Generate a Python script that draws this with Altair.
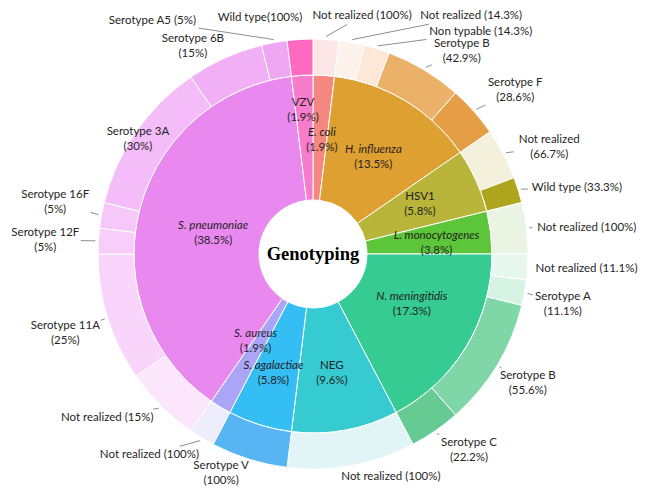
import math
import altair as alt
import pandas as pd

# ---------------- data ----------------
center_title = "Genotyping"

pathogens = ["E. coli", "H. influenza", "HSV1", "L. monocytogenes", "N. meningitidis",
             "NEG", "S. agalactiae", "S. aureus", "S. pneumoniae", "VZV"]
pathogen_counts = [1, 7, 3, 2, 9, 5, 3, 1, 20, 1]
pathogen_share = ["1.9%", "13.5%", "5.8%", "3.8%", "17.3%", "9.6%", "5.8%", "1.9%", "38.5%", "1.9%"]
pathogen_italic = [True, True, False, True, True, False, True, True, True, False]
pathogen_colors = ["#F4877F", "#DFA032", "#B9B43A", "#5DC53A", "#35CB92",
                   "#35CBD1", "#35BEF3", "#ABA5F7", "#E989F0", "#F77CCB"]

sub_parent = ["E. coli",
              "H. influenza", "H. influenza", "H. influenza", "H. influenza",
              "HSV1", "HSV1",
              "L. monocytogenes",
              "N. meningitidis", "N. meningitidis", "N. meningitidis", "N. meningitidis",
              "NEG",
              "S. agalactiae",
              "S. aureus",
              "S. pneumoniae", "S. pneumoniae", "S. pneumoniae", "S. pneumoniae",
              "S. pneumoniae", "S. pneumoniae", "S. pneumoniae",
              "VZV"]
sub_names = ["Not realized",
             "Not realized", "Non typable", "Serotype B", "Serotype F",
             "Not realized", "Wild type",
             "Not realized",
             "Not realized", "Serotype A", "Serotype B", "Serotype C",
             "Not realized",
             "Serotype V",
             "Not realized",
             "Not realized", "Serotype 11A", "Serotype 12F", "Serotype 16F",
             "Serotype 3A", "Serotype 6B", "Serotype A5",
             "Wild type"]
sub_counts = [1, 1, 1, 3, 2, 2, 1, 2, 1, 1, 5, 2, 5, 3, 1, 3, 5, 1, 1, 6, 3, 1, 1]
sub_share = ["100%", "14.3%", "14.3%", "42.9%", "28.6%", "66.7%", "33.3%", "100%",
             "11.1%", "11.1%", "55.6%", "22.2%", "100%", "100%", "100%",
             "15%", "25%", "5%", "5%", "30%", "15%", "5%", "100%"]
sub_colors = ["#FDE7E6",
              "#FEF2EC", "#FDE8D7", "#ECB168", "#E59E45",
              "#F3F0DC", "#ADA51C",
              "#E9F5E2",
              "#E7F7EE", "#D6F3E3", "#7FD7A8", "#65CB93",
              "#E2F5F6",
              "#56B5F2",
              "#EEEDFC",
              "#FCE6FC", "#FAD5FB", "#F8CDFA", "#F6C8F9", "#F4BCF8", "#F1B0F5", "#EFA6F3",
              "#FF6AC1"]

# ---------------- label layout (styling) ----------------
sub_sep = [" ", " ", " ", "\n", "\n", "\n", " ", " ", " ", "\n", "\n", "\n", " ",
           "\n", " ", " ", "\n", "\n", "\n", "\n", "\n", " ", ""]
sub_label_dtheta = [8.2, 23.2, 19.8, 5.2, 2.6, 3.5, 3.3, 1.5, -0.3, 1.1, 0, -3.8, -8.9,
                    5.4, 8.0, 6.5, -0.4, -0.5, 1.0, -1.5, -5.8, -24.2, -9.2]
sub_label_r = [243, 286, 278, 251, 260, 259, 272, 275, 274, 255, 251, 251, 236,
               238, 259, 263, 260, 268, 263, 209, 240, 283, 242]
sub_leader = [True] * 19 + [False, True, True, False]
inner_label_r = [114, 114, 118, 124, 111, 121, 126, 105, 102, 144]
inner_label_dtheta = [1.0, 0.8, -0.8, 2.0, -4.0, 1.4, 1.0, 2.0, -2.0, -0.5]

HOLE_R, INNER_R, OUTER_R = 54, 179, 215
W, H = 631, 478
CX, CY = 305, 246
FONT = "Lato"
CHAR_W = 5.4
LINE_H = 15

TOTAL = sum(pathogen_counts)


def polar(theta_units, r):
    a = theta_units / TOTAL * 2 * math.pi
    return r * math.sin(a), r * math.cos(a)


# inner ring table
rows = []
acc = 0
for i, p in enumerate(pathogens):
    t0, t1 = acc, acc + pathogen_counts[i]
    acc = t1
    mid = (t0 + t1) / 2 + inner_label_dtheta[i] / 360 * TOTAL
    lx, ly = polar(mid, inner_label_r[i])
    rows.append(dict(name=p, t0=t0, t1=t1, pct="(" + pathogen_share[i] + ")",
                     italic=pathogen_italic[i], lx=lx, ly=ly))
inner = pd.DataFrame(rows)

# outer ring table
rows, lines = [], []
acc = 0
for i, n in enumerate(sub_names):
    key = f"{sub_parent[i]} | {n} | {i}"
    t0, t1 = acc, acc + sub_counts[i]
    acc = t1
    mid = (t0 + t1) / 2
    lab = n + sub_sep[i] + "(" + sub_share[i] + ")"
    nlines = lab.count("\n") + 1
    lx, ly = polar(mid + sub_label_dtheta[i] / 360 * TOTAL, sub_label_r[i])
    rows.append(dict(key=key, t0=t0, t1=t1, label=lab, nlines=nlines, lx=lx, ly=ly))
    if sub_leader[i]:
        sx, sy = polar(mid, OUTER_R + 3)
        parts = lab.split("\n")
        hw = max(len(s) for s in parts) * CHAR_W / 2 + 3
        hh = nlines * LINE_H / 2 + 1
        dx, dy = sx - lx, sy - ly
        t = min(hw / abs(dx) if dx else 1e9, hh / abs(dy) if dy else 1e9)
        if t < 1:
            lines.append(dict(x=sx, y=sy, x2=lx + t * dx, y2=ly + t * dy))
outer = pd.DataFrame(rows)
leaders = pd.DataFrame(lines)

xs = alt.Scale(domain=[-CX, W - CX], nice=False, zero=False)
ys = alt.Scale(domain=[CY - H, CY], nice=False, zero=False)
ts = alt.Scale(domain=[0, TOTAL], range=[0, 2 * math.pi])

inner_arcs = alt.Chart(inner).mark_arc(
    innerRadius=HOLE_R, outerRadius=INNER_R, stroke="white", strokeWidth=1
).encode(
    x=alt.XDatum(0, scale=xs, axis=None),
    y=alt.YDatum(0, scale=ys, axis=None),
    theta=alt.Theta("t0:Q", scale=ts),
    theta2="t1:Q",
    color=alt.Color("name:N", scale=alt.Scale(domain=pathogens, range=pathogen_colors), legend=None),
)

outer_arcs = alt.Chart(outer).mark_arc(
    innerRadius=INNER_R, outerRadius=OUTER_R, stroke="white", strokeWidth=1
).encode(
    x=alt.XDatum(0, scale=xs, axis=None),
    y=alt.YDatum(0, scale=ys, axis=None),
    theta=alt.Theta("t0:Q", scale=ts),
    theta2="t1:Q",
    fill=alt.Fill("key:N", scale=alt.Scale(domain=list(outer["key"]), range=sub_colors), legend=None),
)

leader_rules = alt.Chart(leaders).mark_rule(color="#808080", strokeWidth=0.9).encode(
    x=alt.X("x:Q", scale=xs, axis=None),
    y=alt.Y("y:Q", scale=ys, axis=None),
    x2="x2:Q",
    y2="y2:Q",
)


def outer_text(n):
    return alt.Chart(outer).transform_filter(alt.datum.nlines == n).mark_text(
        font=FONT, fontSize=11.5, lineBreak="\n", lineHeight=LINE_H, color="#262626",
        dy=-(n - 1) * LINE_H / 2,
    ).encode(
        x=alt.X("lx:Q", scale=xs, axis=None),
        y=alt.Y("ly:Q", scale=ys, axis=None),
        text="label:N",
    )


def inner_name(italic):
    return alt.Chart(inner).transform_filter(
        alt.datum.italic if italic else ~alt.datum.italic
    ).mark_text(
        font=FONT, fontSize=11.5, dy=-7.5, color="#1f1f1f",
        fontStyle="italic" if italic else "normal",
    ).encode(
        x=alt.X("lx:Q", scale=xs, axis=None),
        y=alt.Y("ly:Q", scale=ys, axis=None),
        text="name:N",
    )


inner_pct = alt.Chart(inner).mark_text(
    font=FONT, fontSize=11.5, dy=7.5, color="#1f1f1f"
).encode(
    x=alt.X("lx:Q", scale=xs, axis=None),
    y=alt.Y("ly:Q", scale=ys, axis=None),
    text="pct:N",
)

title_df = pd.DataFrame({"t": [center_title]})
center_text = alt.Chart(title_df).mark_text(
    font="Liberation Serif", fontSize=18.5, fontWeight="bold", color="#000000"
).encode(
    x=alt.XDatum(0, scale=xs, axis=None),
    y=alt.YDatum(0, scale=ys, axis=None),
    text="t:N",
)

chart = alt.layer(
    inner_arcs, outer_arcs, leader_rules, outer_text(1), outer_text(2),
    inner_name(True), inner_name(False), inner_pct, center_text,
).properties(
    width=W, height=H, autosize=alt.AutoSizeParams(type="none"), padding=0
).configure_view(strokeWidth=0)

chart.save("out.html", embed_options={"renderer": "svg", "actions": False})
